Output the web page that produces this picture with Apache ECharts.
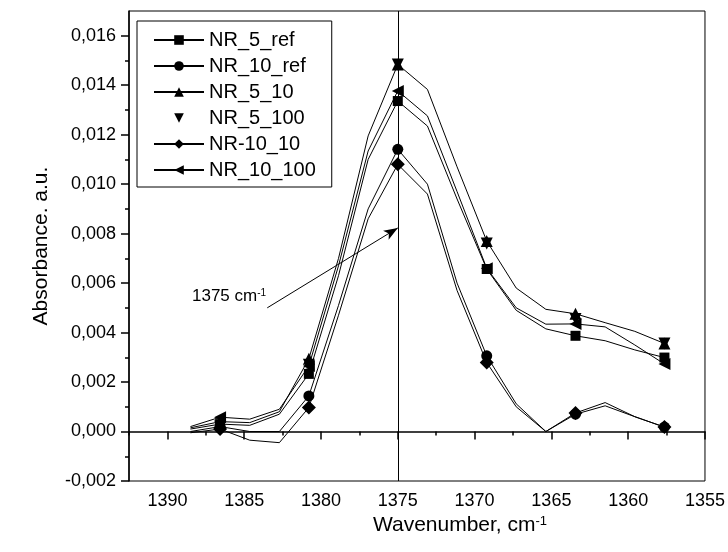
<!DOCTYPE html>
<html><head><meta charset="utf-8">
<script src="https://cdn.jsdelivr.net/npm/echarts@6/dist/echarts.min.js"></script>
<style>html,body{margin:0;padding:0;background:#fff}#c{width:728px;height:552px}</style>
</head><body><div id="c"></div>
<script>
// ---- data ----
const wavenumbers = [1388.50, 1386.57, 1384.64, 1382.71, 1380.79, 1378.86, 1376.93, 1375.00, 1373.07, 1371.14, 1369.21, 1367.29, 1365.36, 1363.43, 1361.50, 1359.57, 1357.64];
const markerIndex = [1, 4, 7, 10, 13, 16];
const NR_5_ref  = [0.00010, 0.00030, 0.00025, 0.00070, 0.00233, 0.00630, 0.01100, 0.01336, 0.01235, 0.00940, 0.00657, 0.00490, 0.00415, 0.00387, 0.00367, 0.00330, 0.00299];
const NR_10_ref = [0.00000, 0.00020, 0.00000, 0.00000, 0.00144, 0.00510, 0.00900, 0.01141, 0.01000, 0.00600, 0.00306, 0.00112, 0.00000, 0.00070, 0.00104, 0.00060, 0.00018];
const NR_5_10   = [0.00015, 0.00040, 0.00036, 0.00080, 0.00294, 0.00700, 0.01195, 0.01484, 0.01383, 0.01070, 0.00770, 0.00580, 0.00494, 0.00476, 0.00440, 0.00405, 0.00356];
const NR_5_100  = [0.00020, 0.00270, 0.01484, 0.00760, 0.00455, 0.00356];
const NR_10_10  = [-0.00005, 0.00010, -0.00035, -0.00045, 0.00097, 0.00470, 0.00860, 0.01080, 0.00960, 0.00570, 0.00279, 0.00100, 0.00000, 0.00075, 0.00117, 0.00060, 0.00018];
const NR_10_100 = [0.00020, 0.00058, 0.00050, 0.00090, 0.00265, 0.00670, 0.01134, 0.01377, 0.01276, 0.00970, 0.00660, 0.00500, 0.00434, 0.00435, 0.00423, 0.00350, 0.00273];
const xMajorTicks = [1355, 1360, 1365, 1370, 1375, 1380, 1385, 1390];
const xMinorTicks = [1357.5, 1362.5, 1367.5, 1372.5, 1377.5, 1382.5, 1387.5, 1392.5];
const yMajorTicks = [-0.002, 0, 0.002, 0.004, 0.006, 0.008, 0.010, 0.012, 0.014, 0.016];
const yMinorTicks = [-0.001, 0.001, 0.003, 0.005, 0.007, 0.009, 0.011, 0.013, 0.015];
const peakPosition = 1375;
const arrowFrom = [1383.5, 0.00500];
const arrowTo = [1375, 0.00823];

const FONT = 'Liberation Sans, Arial, sans-serif';
const chart = echarts.init(document.getElementById('c'), null, {renderer: 'canvas'});

function lineData(vals) {
  return vals.map((v, i) => markerIndex.includes(i) ? {value: [wavenumbers[i], v]} : {value: [wavenumbers[i], v], symbol: 'none'});
}
function lineSeries(name, vals, symbol, size, rotate) {
  return {
    name, type: 'line', data: lineData(vals), symbol, symbolSize: size, symbolRotate: rotate || 0,
    showAllSymbol: true, animation: false,
    lineStyle: {color: '#000', width: 1}, itemStyle: {color: '#000'},
    emphasis: {disabled: true}
  };
}

const fmtY = v => v.toFixed(3).replace('.', ',');
const fmtX = v => String(Math.round(v));
const axisCommon = {
  axisLine: {show: true, lineStyle: {color: '#000', width: 1.5}},
  splitLine: {show: false},
};

const option = {
  backgroundColor: '#fff',
  animation: false,
  grid: {left: 129, right: 21, top: 11, bottom: 71, show: true, borderColor: '#000', borderWidth: 1, containLabel: false},
  xAxis: [
    Object.assign({}, axisCommon, {
      type: 'value', position: 'bottom', min: 1355, max: 1392.5, inverse: true,
      axisTick: {show: true, customValues: xMajorTicks, length: 8, lineStyle: {color: '#000', width: 1.5}},
      axisLabel: {customValues: xMajorTicks, formatter: fmtX, fontSize: 18, color: '#000', fontFamily: FONT, margin: 11},
      name: 'Wavenumber, cm{sup|-1}', nameLocation: 'middle', nameGap: 26,
      nameTextStyle: {fontSize: 21, color: '#000', fontFamily: FONT, padding: [0, 0, 0, 86],
        rich: {sup: {fontSize: 13, verticalAlign: 'top', fontFamily: FONT, color: '#000'}}}
    }),
    {
      type: 'value', position: 'bottom', min: 1355, max: 1392.5, inverse: true,
      axisLine: {show: false}, splitLine: {show: false}, axisLabel: {show: false},
      axisTick: {show: true, customValues: xMinorTicks, length: 4, lineStyle: {color: '#000', width: 1.5}}
    }
  ],
  yAxis: [
    Object.assign({}, axisCommon, {
      type: 'value', position: 'left', min: -0.002, max: 0.017,
      axisTick: {show: true, customValues: yMajorTicks, length: 8, lineStyle: {color: '#000', width: 1.5}},
      axisLabel: {customValues: yMajorTicks, formatter: fmtY, fontSize: 18, color: '#000', fontFamily: FONT, margin: 13},
      name: 'Absorbance. a.u.', nameLocation: 'middle', nameGap: 77,
      nameTextStyle: {fontSize: 21, color: '#000', fontFamily: FONT}
    }),
    {
      type: 'value', position: 'left', min: -0.002, max: 0.017,
      axisLine: {show: false}, splitLine: {show: false}, axisLabel: {show: false},
      axisTick: {show: true, customValues: yMinorTicks, length: 4, lineStyle: {color: '#000', width: 1.5}}
    }
  ],
  legend: {
    orient: 'vertical', left: 137, top: 21,
    padding: [9, 16, 7, 16], itemGap: 6, itemWidth: 50, itemHeight: 12,
    borderColor: '#000', borderWidth: 1, backgroundColor: '#fff',
    textStyle: {fontSize: 20, color: '#000', fontFamily: FONT},
    data: ['NR_5_ref', 'NR_10_ref', 'NR_5_10', 'NR_5_100', 'NR-10_10', 'NR_10_100']
  },
  series: [
    Object.assign(lineSeries('NR_5_ref', NR_5_ref, 'rect', 10), {
      markLine: {
        silent: true, animation: false, symbol: ['none', 'none'],
        label: {show: false},
        lineStyle: {color: '#000', width: 1, type: 'solid'},
        emphasis: {disabled: true},
        data: [
          {xAxis: peakPosition},
          [
            {coord: arrowFrom, symbol: 'none'},
            {coord: arrowTo, symbol: 'arrow', symbolSize: [8, 14]}
          ]
        ]
      }
    }),
    lineSeries('NR_10_ref', NR_10_ref, 'circle', 11),
    lineSeries('NR_5_10', NR_5_10, 'triangle', 12),
    {
      name: 'NR_5_100', type: 'line', animation: false,
      data: NR_5_100.map((v, k) => [wavenumbers[markerIndex[k]], v]),
      symbol: 'triangle', symbolRotate: 180, symbolSize: 12, showAllSymbol: true,
      lineStyle: {opacity: 0, width: 0}, itemStyle: {color: '#000'}, emphasis: {disabled: true}
    },
    lineSeries('NR-10_10', NR_10_10, 'diamond', 14),
    lineSeries('NR_10_100', NR_10_100, 'triangle', 12, 90)
  ],
  graphic: [
    {
      type: 'text', left: 192, top: 288, silent: true,
      style: {
        text: '1375 cm{sup|-1}', fontSize: 17, fill: '#000', fontFamily: FONT,
        rich: {sup: {fontSize: 10, verticalAlign: 'top', fontFamily: FONT, fill: '#000'}}
      }
    }
  ]
};
chart.setOption(option);
</script>
</body></html>
